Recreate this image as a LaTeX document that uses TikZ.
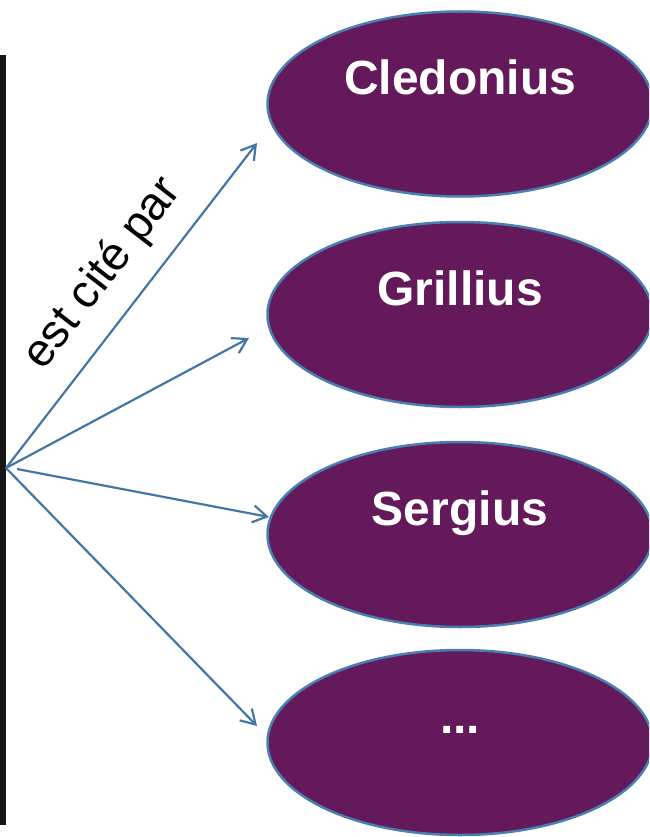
\documentclass[tikz,border=0pt]{standalone}
\usepackage{fontspec}
\setmainfont{Liberation Sans}
\usetikzlibrary{arrows.meta}
\usetikzlibrary{shapes.geometric}

\definecolor{plum}{RGB}{99,25,90}
\definecolor{rim}{RGB}{74,126,177}
\definecolor{link}{RGB}{68,118,165}
\definecolor{bardark}{RGB}{24,20,23}

\begin{document}
\begin{tikzpicture}[x=1pt,y=-1pt,
  oval/.style={ellipse, draw=rim, line width=2.5pt, fill=plum,
    minimum width=385pt, minimum height=185pt, inner sep=0pt},
  authortxt/.style={text=white, anchor=base, inner sep=0pt,
    font=\bfseries\fontsize{48}{51}\selectfont},
  citelbl/.style={inner sep=0pt, font=\fontsize{46.5}{50}\selectfont},
  cites/.style={draw=link, line width=2.2pt,
    -{Straight Barb[length=14pt,width=17pt]}}]

  \clip (0,0) rectangle (649,837);
  \fill[bardark] (0,55) rectangle (6,825);

  \node[oval] (cled) at (460,104) {};
  \node[authortxt] (cledtxt) at ([yshift=9pt]cled.center) {Cledonius};

  \node[oval] (grill) at (460,314.5) {};
  \node[authortxt] (grilltxt) at ([yshift=9pt]grill.center) {Grillius};

  \node[oval] (serg) at (460,534.5) {};
  \node[authortxt] (sergtxt) at ([yshift=9pt]serg.center) {Sergius};

  \node[oval] (etc) at (460,742.5) {};
  \node[authortxt] (etctxt) at ([yshift=9pt]etc.center) {...};

  \coordinate (src) at (6,468);
  \coordinate (srcb) at (17,469);
  \coordinate (tipa) at (257,143);
  \coordinate (tipb) at (249,338);
  \coordinate (tipc) at (269,517);
  \coordinate (tipd) at (257,726);

  \draw[cites] (src) -- (tipa);
  \draw[cites] (src) -- (tipb);
  \draw[cites] (srcb) -- (tipc);
  \draw[cites] (src) -- (tipd);

  \node[citelbl, rotate=52.3] (citepar) at (103,274) {est cité par};

\end{tikzpicture}
\end{document}
